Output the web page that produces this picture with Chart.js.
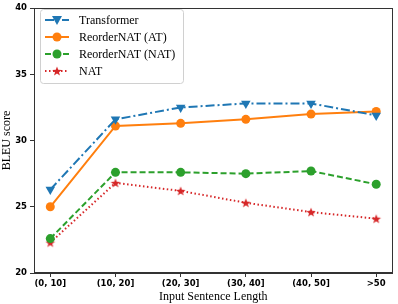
<!DOCTYPE html>
<html>
<head>
<meta charset="utf-8">
<script src="https://cdn.jsdelivr.net/npm/chart.js@4"></script>
<style>
  html, body { margin: 0; padding: 0; background: #fff; }
  #wrap { width: 398px; height: 304px; }
</style>
</head>
<body>
<div id="wrap"><canvas id="bleuChart" width="398" height="304"></canvas></div>
<script>
// Data
const lengthBins = ['(0, 10]', '(10, 20]', '(20, 30]', '(30, 40]', '(40, 50]', '>50'];
const transformerBleu = [26.3, 31.6, 32.5, 32.8, 32.8, 31.9];
const reorderAtBleu = [25.0, 31.1, 31.3, 31.6, 32.0, 32.2];
const reorderNatBleu = [22.6, 27.6, 27.6, 27.5, 27.7, 26.7];
const natBleu = [22.3, 26.8, 26.2, 25.3, 24.6, 24.1];
const yTicks = [20, 25, 30, 35, 40];

const BLUE = '#1f77b4', ORANGE = '#ff7f0e', GREEN = '#2ca02c', RED = '#d62728';
const SPINE = '#333333';

// filled 5-point star sprite for the NAT marker
function makeStar(r, color) {
    const c = document.createElement('canvas');
    c.width = c.height = Math.ceil(r * 2 + 2);
    const g = c.getContext('2d');
    g.translate(c.width / 2, c.height / 2 + 0.5);
    starPath(g, r);
    g.fillStyle = color;
    g.fill();
    return c;
}
function starPath(g, r) {
    g.beginPath();
    for (let i = 0; i < 10; i++) {
        const rad = i % 2 === 0 ? r : r * 0.42;
        const a = -Math.PI / 2 + i * Math.PI / 5;
        const px = rad * Math.cos(a), py = rad * Math.sin(a);
        if (i === 0) g.moveTo(px, py); else g.lineTo(px, py);
    }
    g.closePath();
}
const starImg = makeStar(5, RED);

const toPoints = arr => arr.map((v, i) => ({ x: i, y: v }));

const series = [
    { label: 'Transformer', data: transformerBleu, color: BLUE, dash: [9, 3, 2, 3], marker: 'tri' },
    { label: 'ReorderNAT (AT)', data: reorderAtBleu, color: ORANGE, dash: [], marker: 'circle' },
    { label: 'ReorderNAT (NAT)', data: reorderNatBleu, color: GREEN, dash: [6, 3], marker: 'circle' },
    { label: 'NAT', data: natBleu, color: RED, dash: [1.5, 2.5], marker: 'star' }
];

// legend box drawn inside the plot area, matplotlib style
const legendPlugin = {
    id: 'mplLegend',
    afterDatasetsDraw(chart) {
        const g = chart.ctx;
        g.save();
        const bx = 40, by = 9, bw = 143, bh = 74;
        g.beginPath();
        g.roundRect(bx + 0.5, by + 0.5, bw, bh, 3);
        g.fillStyle = 'rgba(255,255,255,0.85)';
        g.fill();
        g.strokeStyle = '#d0d0d0';
        g.lineWidth = 1;
        g.stroke();
        const rows = [20, 37, 54, 71];
        series.forEach((s, i) => {
            const y = rows[i];
            g.beginPath();
            g.setLineDash(s.dash);
            g.strokeStyle = s.color;
            g.lineWidth = 2;
            g.moveTo(45, y);
            g.lineTo(69, y);
            g.stroke();
            g.setLineDash([]);
            drawMarker(g, s, 57, y);
            g.fillStyle = '#000';
            g.font = '12px "Liberation Serif", "Times New Roman", serif';
            g.textBaseline = 'middle';
            g.fillText(s.label, 79, y + 0.5);
        });
        g.restore();
    }
};
function drawMarker(g, s, x, y) {
    g.fillStyle = s.color;
    if (s.marker === 'circle') {
        g.beginPath();
        g.arc(x, y, 4.5, 0, Math.PI * 2);
        g.fill();
    } else if (s.marker === 'tri') {
        g.beginPath();
        g.moveTo(x - 5, y - 4);
        g.lineTo(x + 5, y - 4);
        g.lineTo(x, y + 5);
        g.closePath();
        g.fill();
    } else {
        g.drawImage(starImg, x - starImg.width / 2, y - starImg.height / 2);
    }
}

// top and right spines
const framePlugin = {
    id: 'frame',
    afterDraw(chart) {
        const a = chart.chartArea, g = chart.ctx;
        g.save();
        g.strokeStyle = SPINE;
        g.lineWidth = 1;
        g.strokeRect(Math.round(a.left) + 0.5, Math.round(a.top) + 0.5,
            Math.round(a.right - a.left) - 1, Math.round(a.bottom - a.top) - 1);
        g.restore();
    }
};

const tickFont = { family: '"DejaVu Sans", sans-serif', size: 8.5, weight: 'bold' };
const titleFont = { family: '"Liberation Serif", "Times New Roman", serif', size: 12 };

new Chart(document.getElementById('bleuChart'), {
    type: 'line',
    data: {
        datasets: series.map(s => ({
            label: s.label,
            data: toPoints(s.data),
            borderColor: s.color,
            backgroundColor: s.color,
            borderWidth: 2,
            borderDash: s.dash,
            tension: 0,
            pointStyle: s.marker === 'star' ? starImg : (s.marker === 'tri' ? 'triangle' : 'circle'),
            rotation: s.marker === 'tri' ? 180 : 0,
            pointRadius: s.marker === 'tri' ? 5.5 : 4.5,
            pointBorderWidth: 0
        }))
    },
    options: {
        responsive: false,
        animation: false,
        events: [],
        layout: { padding: { top: 5, right: 5, left: 0, bottom: 0 } },
        plugins: { legend: { display: false }, tooltip: { enabled: false } },
        scales: {
            x: {
                type: 'linear',
                min: -0.25,
                max: 5.25,
                afterBuildTicks: axis => { axis.ticks = lengthBins.map((l, i) => ({ value: i })); },
                afterFit: axis => { axis.height = 31; },
                ticks: {
                    color: '#000',
                    font: tickFont,
                    padding: 2,
                    maxRotation: 0,
                    autoSkip: false,
                    callback: v => lengthBins[v]
                },
                grid: { drawOnChartArea: false, tickLength: 4, color: SPINE },
                border: { color: SPINE },
                title: { display: true, text: 'Input Sentence Length', color: '#000', font: titleFont, padding: { top: 0, bottom: 0 } }
            },
            y: {
                min: 20,
                max: 40,
                afterBuildTicks: axis => { axis.ticks = yTicks.map(v => ({ value: v })); },
                afterFit: axis => { axis.width = 34; },
                ticks: { color: '#000', font: tickFont, padding: 3 },
                grid: { drawOnChartArea: false, tickLength: 4, color: SPINE },
                border: { color: SPINE },
                title: { display: true, text: 'BLEU score', color: '#000', font: titleFont, padding: { top: 0, bottom: 0 } }
            }
        }
    },
    plugins: [legendPlugin, framePlugin]
});
</script>
</body>
</html>
